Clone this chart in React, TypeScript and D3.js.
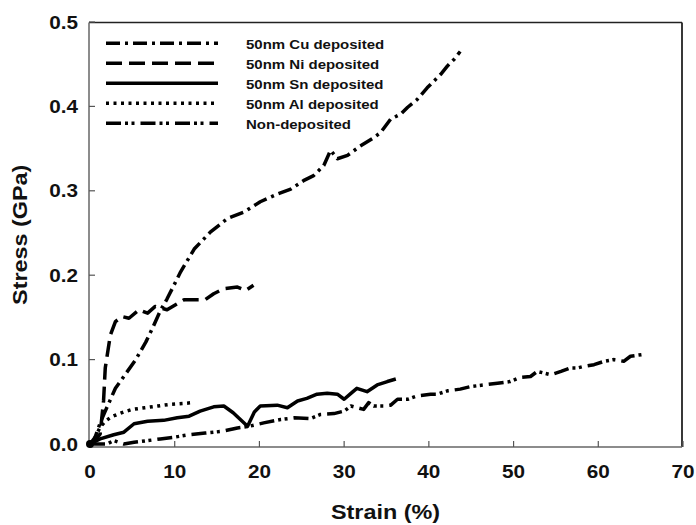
import React from 'react';
import * as d3 from 'd3';

// axis ticks
const xTicks = [0, 10, 20, 30, 40, 50, 60, 70];
const yTicks = [0, 0.1, 0.2, 0.3, 0.4, 0.5];
const yTickLabels = ['0.0', '0.1', '0.2', '0.3', '0.4', '0.5'];

// 50nm Cu deposited
const cuStrain = [0, 0.6, 1.2, 1.8, 3.0, 4.2, 5.4, 6.6, 7.5, 8.3, 9.1, 10.7, 12.3, 14.2, 16.2, 18.2, 20.1, 22.1, 23.7, 25.2, 26.4, 27.6, 28.4, 29.2, 30.4, 31.9, 33.5, 34.3, 35.5, 36.7, 37.5, 38.6, 39.8, 41.4, 42.2, 43.0, 43.7];
const cuStress = [0, 0.008, 0.025, 0.039, 0.066, 0.083, 0.100, 0.121, 0.140, 0.158, 0.172, 0.204, 0.231, 0.251, 0.267, 0.275, 0.287, 0.296, 0.302, 0.312, 0.318, 0.330, 0.348, 0.338, 0.342, 0.353, 0.363, 0.369, 0.385, 0.391, 0.399, 0.408, 0.422, 0.438, 0.448, 0.456, 0.465];

// 50nm Ni deposited
const niStrain = [0, 0.6, 1.2, 1.6, 1.8, 2.4, 3.0, 3.8, 4.6, 5.8, 6.8, 7.7, 9.1, 10.1, 11.1, 12.7, 13.6, 14.6, 15.8, 17.4, 18.4, 19.3];
const niStress = [0, 0.004, 0.012, 0.051, 0.090, 0.129, 0.145, 0.151, 0.149, 0.159, 0.155, 0.163, 0.159, 0.165, 0.171, 0.171, 0.171, 0.178, 0.184, 0.186, 0.182, 0.188];

// 50nm Sn deposited
const snStrain = [0, 1.2, 2.8, 4.0, 5.2, 6.8, 8.7, 10.3, 11.7, 13.0, 14.6, 15.8, 16.9, 18.6, 19.4, 20.1, 22.1, 23.3, 24.5, 25.6, 26.8, 28.0, 29.2, 30.0, 30.8, 31.5, 32.7, 33.9, 35.1, 36.1];
const snStress = [0, 0.006, 0.011, 0.014, 0.024, 0.027, 0.028, 0.031, 0.033, 0.039, 0.044, 0.045, 0.037, 0.021, 0.038, 0.045, 0.046, 0.043, 0.051, 0.054, 0.059, 0.060, 0.059, 0.053, 0.060, 0.066, 0.062, 0.070, 0.074, 0.077];

// 50nm Al deposited
const alStrain = [0, 0.5, 1.2, 1.8, 2.5, 3.2, 4.0, 5.0, 6.5, 8.0, 9.5, 11.0, 12.1];
const alStress = [0, 0.006, 0.020, 0.027, 0.032, 0.035, 0.038, 0.041, 0.043, 0.045, 0.047, 0.048, 0.049];

// Non-deposited
const ndStrain = [0, 2.0, 2.8, 4.0, 5.2, 6.8, 8.3, 9.9, 11.7, 13.6, 15.6, 17.4, 18.8, 20.5, 22.5, 24.1, 26.0, 27.2, 28.8, 30.0, 30.8, 32.3, 32.9, 33.5, 34.7, 35.5, 36.3, 37.5, 38.6, 40.2, 41.0, 42.2, 43.7, 44.9, 46.5, 48.1, 49.6, 50.8, 52.0, 52.8, 54.4, 55.6, 56.7, 57.5, 58.3, 59.5, 60.7, 61.8, 63.0, 63.8, 65.2];
const ndStress = [0, 0, 0.004, 0, 0.002, 0.004, 0.006, 0.008, 0.011, 0.013, 0.015, 0.019, 0.021, 0.025, 0.029, 0.031, 0.030, 0.035, 0.036, 0.039, 0.045, 0.041, 0.049, 0.045, 0.045, 0.046, 0.053, 0.053, 0.057, 0.059, 0.059, 0.063, 0.065, 0.068, 0.070, 0.072, 0.074, 0.079, 0.080, 0.086, 0.082, 0.086, 0.090, 0.090, 0.092, 0.094, 0.098, 0.100, 0.098, 0.104, 0.106];

const seriesNames = ['50nm Cu deposited', '50nm Ni deposited', '50nm Sn deposited', '50nm Al deposited', 'Non-deposited'];
const seriesStrain = [cuStrain, niStrain, snStrain, alStrain, ndStrain];
const seriesStress = [cuStress, niStress, snStress, alStress, ndStress];
const seriesDash = ['14,5,3,5', '16,7', '', '3,4.5', '15,4,3,3.5,3,6'];

const FONT = 'Liberation Sans, Arial, Helvetica, sans-serif';

const left = 89, right = 682, top = 22.5, bottom = 447;

export default function App() {
  const x = d3.scaleLinear().domain([0, 70]).range([90, 683]);
  const y = d3.scaleLinear().domain([0, 0.5]).range([444, 22]);

  const line = d3.line<[number, number]>()
    .x(d => x(d[0]))
    .y(d => y(d[1]))
    .curve(d3.curveLinear);

  const legendY = (i: number) => 43.3 + i * 20;

  return (
    <svg width={696} height={525} style={{ position: 'fixed', left: 0, top: 0, background: '#fff' }}>
      <rect x={0} y={0} width={696} height={525} fill="#fff" />

      {/* frame */}
      <line x1={left} x2={right} y1={top} y2={top} stroke="#222" strokeWidth={1.5} />
      <line x1={right} x2={right} y1={top} y2={bottom} stroke="#222" strokeWidth={1.8} />
      <line x1={left} x2={left} y1={top} y2={bottom} stroke="#666" strokeWidth={1.5} />
      <line x1={left} x2={right} y1={bottom} y2={bottom} stroke="#666" strokeWidth={1.5} />

      {/* x ticks */}
      {xTicks.map(t => (
        <g key={'xt' + t}>
          <line x1={x(t)} x2={x(t)} y1={bottom} y2={bottom - 6} stroke="#555" strokeWidth={1.2} />
          <text transform={`translate(${x(t)},478) scale(1.15,1)`} textAnchor="middle"
            fontFamily={FONT} fontWeight="bold" fontSize={18} fill="#111">{t}</text>
        </g>
      ))}

      {/* y ticks */}
      {yTicks.map((t, i) => (
        <g key={'yt' + t}>
          <line x1={left} x2={left + 6} y1={y(t)} y2={y(t)} stroke="#555" strokeWidth={1.2} />
          <text transform={`translate(78,${y(t) + 6.5}) scale(1.15,1)`} textAnchor="end"
            fontFamily={FONT} fontWeight="bold" fontSize={18} fill="#111">{yTickLabels[i]}</text>
        </g>
      ))}

      {/* axis titles */}
      <text transform={`translate(${(left + right) / 2},519) scale(1.2,1)`} textAnchor="middle"
        fontFamily={FONT} fontWeight="bold" fontSize={19.5} fill="#111">Strain (%)</text>
      <text transform={`translate(27,${(top + bottom) / 2}) rotate(-90) scale(1.2,1)`} textAnchor="middle"
        fontFamily={FONT} fontWeight="bold" fontSize={19.5} fill="#111">Stress (GPa)</text>

      {/* curves */}
      {seriesNames.map((name, i) => {
        const pts = seriesStrain[i].map((s, j) => [s, seriesStress[i][j]] as [number, number]);
        return (
          <path key={name} d={line(pts) || ''} fill="none" stroke="#000" strokeWidth={3.5}
            strokeDasharray={seriesDash[i] || undefined} strokeLinejoin="round" />
        );
      })}
      <circle cx={x(0)} cy={y(0)} r={4} fill="#000" />

      {/* legend */}
      {seriesNames.map((name, i) => (
        <g key={'lg' + name}>
          <line x1={106} x2={218} y1={legendY(i)} y2={legendY(i)} stroke="#000" strokeWidth={3.5}
            strokeDasharray={seriesDash[i] || undefined} />
          <text transform={`translate(246,${legendY(i) + 5.5}) scale(1.2,1)`}
            fontFamily={FONT} fontWeight="bold" fontSize={12.5} fill="#111">{name}</text>
        </g>
      ))}
    </svg>
  );
}
